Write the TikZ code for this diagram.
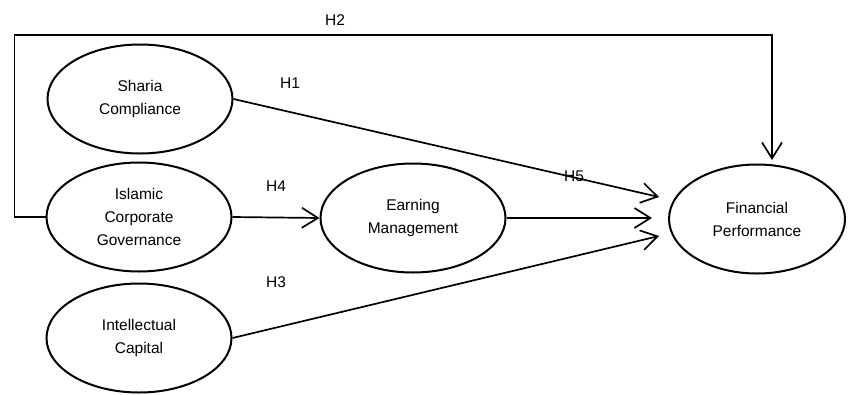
\documentclass[tikz,border=0pt]{standalone}
\usepackage{fontspec}
\setmainfont{Liberation Sans}
\usetikzlibrary{shapes.geometric,arrows.meta}
\tikzset{
    construct/.style={draw,ellipse,line width=2pt,inner sep=0pt,
        minimum width=185pt,minimum height=109pt,align=center,
        font=\fontsize{15.5}{23}\selectfont},
    path arrow/.style={line width=1.7pt,-{Straight Barb[length=16pt,width=20pt,line width=1.7pt]}},
    hyp/.style={font=\fontsize{15.5}{18}\selectfont}
}
\begin{document}
\begin{tikzpicture}[x=1pt,y=-1pt]
      \useasboundingbox (0,0) rectangle (848,394);
      \node[construct] (shar) at (140,99) {Sharia\\Compliance};
      \node[construct] (isl) at (139,217) {Islamic\\Corporate\\Governance};
      \node[construct] (intel) at (139,338) {Intellectual\\Capital};
      \node[construct] (earn) at (413,218) {Earning\\Management};
      \node[construct,minimum width=176pt] (fin) at (757,219) {Financial\\Performance};
      \coordinate (h1end) at (659,197);
      \coordinate (h3end) at (659,236);
      \coordinate (h5end) at (652,218);
      \coordinate (h2end) at (772,160);
      \draw[path arrow] (shar.east) -- (h1end);
      \draw[path arrow] (earn.east) -- (h5end);
      \draw[path arrow] (intel.east) -- (h3end);
      \draw[path arrow] (isl.east) -- (earn.west);
      \draw[path arrow] (isl.west) -- ++(-31,0) |- (h2end |- 0,35) -- (h2end);
      \node[hyp] (lh2) at (335,20) {H2};
      \node[hyp] (lh1) at (290,83) {H1};
      \node[hyp] (lh4) at (276,186) {H4};
      \node[hyp] (lh5) at (574,176) {H5};
      \node[hyp] (lh3) at (276,282) {H3};
\end{tikzpicture}
\end{document}
